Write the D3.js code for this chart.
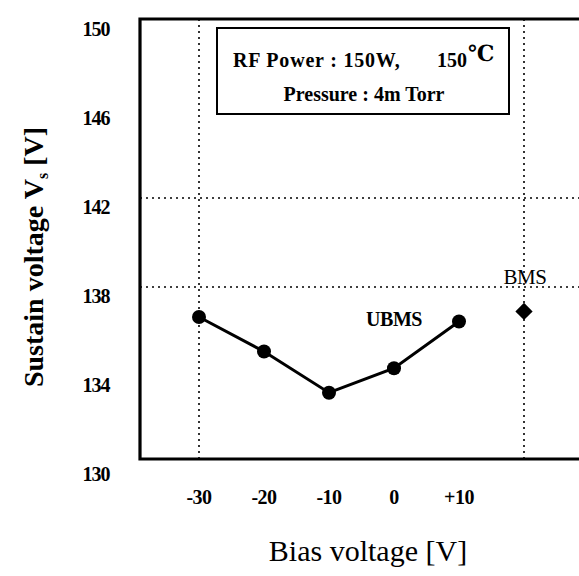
<!DOCTYPE html>
<html>
<head>
<meta charset="utf-8">
<script src="https://cdn.jsdelivr.net/npm/d3@7"></script>
<style>
  html, body { margin: 0; padding: 0; background: #fff; }
  svg { display: block; }
  text { font-family: "Liberation Serif", "DejaVu Serif", serif; fill: #000; }
</style>
</head>
<body>
<svg id="chart" width="579" height="576"></svg>
<script>
// ---- data ----
const biasVoltages = [-30, -20, -10, 0, 10];
const xTickLabels = ["-30", "-20", "-10", "0", "+10"];
const ubmsValues = [136.65, 135.1, 133.25, 134.35, 136.45];
const bmsPosition = [20];
const bmsValues = [136.9];
const yTicks = [130, 134, 138, 142, 146, 150];
const yGridValues = [138, 142];
const xGridValues = [-30, 20];
const boxLines = ["RF Power : 150W,", "Pressure : 4m Torr"];

const svg = d3.select("#chart");

// ---- scales ----
const x = d3.scaleLinear().domain([-30, 20]).range([199, 524]);
const y = d3.scaleLinear().domain([130, 150]).range([465, 20]);

const frameLeft = 140, frameTop = 19, frameBottom = 459, frameRight = 585;

// gridlines (dotted)
svg.selectAll("line.hgrid").data(yGridValues).enter().append("line")
  .attr("x1", frameLeft).attr("x2", frameRight)
  .attr("y1", d => y(d)).attr("y2", d => y(d))
  .attr("stroke", "#000").attr("stroke-width", 1.6)
  .attr("stroke-dasharray", "2,4");

svg.selectAll("line.vgrid").data(xGridValues).enter().append("line")
  .attr("x1", d => x(d)).attr("x2", d => x(d))
  .attr("y1", frameTop).attr("y2", frameBottom)
  .attr("stroke", "#000").attr("stroke-width", 1.6)
  .attr("stroke-dasharray", "2,4");

// frame: left, top, bottom
svg.append("path")
  .attr("d", `M${frameRight},${frameTop} H${frameLeft} V${frameBottom} H${frameRight}`)
  .attr("fill", "none").attr("stroke", "#000").attr("stroke-width", 3.2);

// y tick labels
svg.selectAll("text.ytick").data(yTicks).enter().append("text")
  .attr("x", 96).attr("y", d => y(d) + 16)
  .attr("text-anchor", "middle")
  .attr("font-weight", "bold").attr("font-size", 20)
  .attr("letter-spacing", -1)
  .text(d => d);

// x tick labels
svg.selectAll("text.xtick").data(biasVoltages).enter().append("text")
  .attr("x", (d) => x(d)).attr("y", 504)
  .attr("text-anchor", "middle")
  .attr("font-weight", "bold").attr("font-size", 20)
  .attr("letter-spacing", -0.5)
  .text((d, i) => xTickLabels[i]);

// UBMS line
const line = d3.line().x((d, i) => x(biasVoltages[i])).y(d => y(d));
svg.append("path").datum(ubmsValues)
  .attr("d", line).attr("fill", "none")
  .attr("stroke", "#000").attr("stroke-width", 3);

svg.selectAll("circle.pt").data(ubmsValues).enter().append("circle")
  .attr("cx", (d, i) => x(biasVoltages[i])).attr("cy", d => y(d))
  .attr("r", 7).attr("fill", "#000");

// BMS diamond
svg.selectAll("path.bms").data(bmsValues).enter().append("path")
  .attr("d", d3.symbol().type(d3.symbolDiamond2).size(190))
  .attr("transform", (d, i) => `translate(${x(bmsPosition[i])},${y(d)})`)
  .attr("fill", "#000");

// labels
svg.append("text").attr("x", 394).attr("y", 326)
  .attr("text-anchor", "middle").attr("font-size", 20).attr("font-weight", "bold")
  .attr("letter-spacing", -0.5)
  .text("UBMS");
svg.append("text").attr("x", 525).attr("y", 284)
  .attr("text-anchor", "middle").attr("font-size", 21)
  .attr("letter-spacing", -0.5)
  .text("BMS");

// annotation box
svg.append("rect").attr("x", 217).attr("y", 28).attr("width", 292).attr("height", 86)
  .attr("fill", "#fff").attr("stroke", "#000").attr("stroke-width", 2);
const t1 = svg.append("text").attr("x", 233).attr("y", 67)
  .attr("font-size", 20).attr("font-weight", "bold");
t1.append("tspan").attr("letter-spacing", 0.8).text(boxLines[0]);
t1.append("tspan").attr("x", 437).text("150");
t1.append("tspan").attr("dx", 1).attr("dy", -6).attr("font-size", 22).text("\u2103");
svg.append("text").attr("x", 364).attr("y", 101)
  .attr("text-anchor", "middle").attr("font-size", 20).attr("font-weight", "bold")
  .text(boxLines[1]);

// axis titles
const yt = svg.append("text")
  .attr("transform", "translate(43,257) rotate(-90)")
  .attr("text-anchor", "middle").attr("font-size", 28).attr("font-weight", "bold");
yt.append("tspan").text("Sustain voltage V");
yt.append("tspan").attr("font-size", 16).attr("dy", 5).text("s");
yt.append("tspan").attr("dy", -5).text(" [V]");

svg.append("text").attr("x", 368).attr("y", 561)
  .attr("text-anchor", "middle").attr("font-size", 30)
  .text("Bias voltage [V]");
</script>
</body>
</html>
